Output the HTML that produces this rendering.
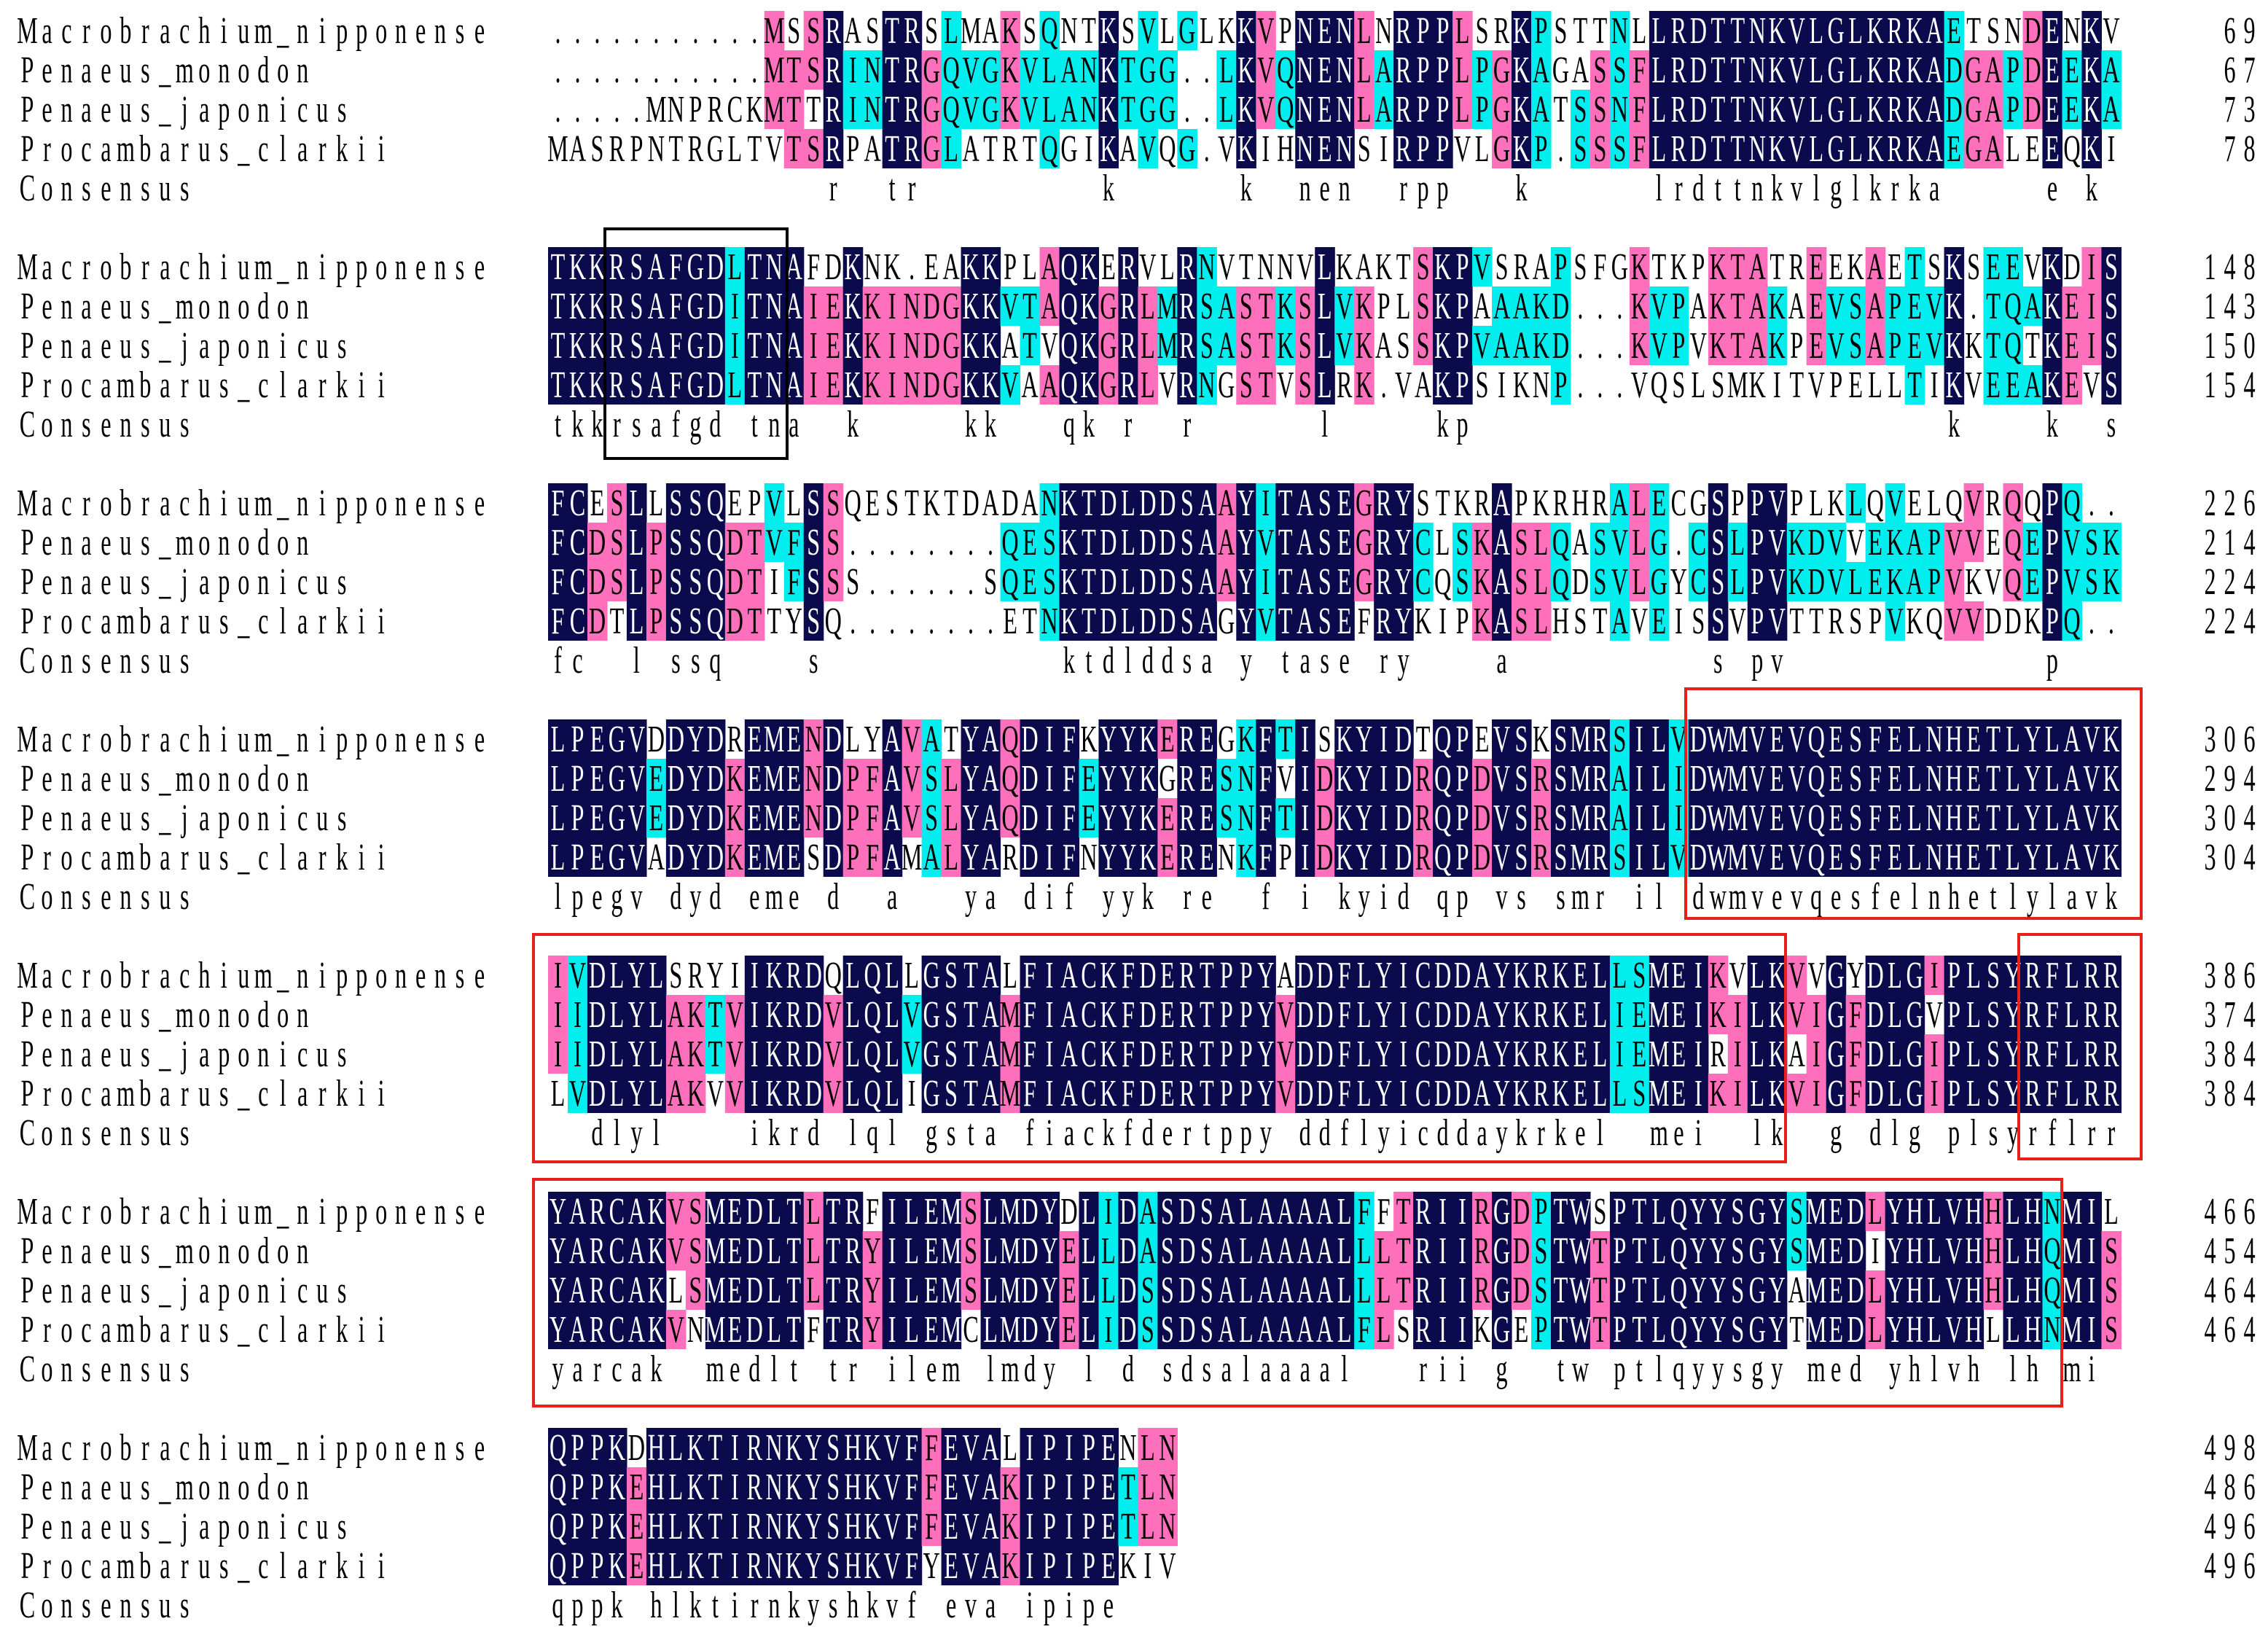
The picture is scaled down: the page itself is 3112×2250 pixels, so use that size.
<!DOCTYPE html>
<html><head><meta charset="utf-8">
<style>
html,body{margin:0;padding:0;background:#fff;}
svg{display:block;}
</style></head>
<body>
<svg id="aln" width="3112" height="2250" viewBox="0 0 3112 2250" xmlns="http://www.w3.org/2000/svg">
<rect width="3112" height="2250" fill="#fff"/>
<g id="cells"></g>
<g id="texts"></g>
<g id="boxes" fill="none" stroke-width="4">
<rect x="2313" y="945" width="625" height="315" stroke="#e8201c"/>
<rect x="732" y="1282" width="1718" height="312" stroke="#e8201c"/>
<rect x="2770" y="1282" width="168" height="308" stroke="#e8201c"/>
<rect x="732" y="1618" width="2097" height="311" stroke="#e8201c"/>
<rect x="830" y="314" width="250" height="315" stroke="#000"/>
</g>
</svg>
<script>
const names = ["Macrobrachium_nipponense","Penaeus_monodon","Penaeus_japonicus","Procambarus_clarkii"];
const block1 = ["...........MSSRASTRSLMAKSQNTKSVLGLKKVPNENLNRPPLSRKPSTTNLLRDTTNKVLGLKRKAETSNDENKV",
"...........MTSRINTRGQVGKVLANKTGG..LKVQNENLARPPLPGKAGASSFLRDTTNKVLGLKRKADGAPDEEKA",
".....MNPRCKMTTRINTRGQVGKVLANKTGG..LKVQNENLARPPLPGKATSSNFLRDTTNKVLGLKRKADGAPDEEKA",
"MASRPNTRGLTVTSRPATRGLATRTQGIKAVQG.VKIHNENSIRPPVLGKP.SSSFLRDTTNKVLGLKRKAEGALEEQKI"];
const block2 = ["TKKRSAFGDLTNAFDKNK.EAKKPLAQKERVLRNVTNNVLKAKTSKPVSRAPSFGKTKPKTATREEKAETSKSEEVKDIS",
"TKKRSAFGDITNAIEKKINDGKKVTAQKGRLMRSASTKSLVKPLSKPAAAKD...KVPAKTAKAEVSAPEVK.TQAKEIS",
"TKKRSAFGDITNAIEKKINDGKKATVQKGRLMRSASTKSLVKASSKPVAAKD...KVPVKTAKPEVSAPEVKKTQTKEIS",
"TKKRSAFGDLTNAIEKKINDGKKVAAQKGRLVRNGSTVSLRK.VAKPSIKNP...VQSLSMKITVPELLTIKVEEAKEVS"];
const block3 = ["FCESLLSSQEPVLSSQESTKTDADANKTDLDDSAAYITASEGRYSTKRAPKRHRALECGSPPVPLKLQVELQVRQQPQ..",
"FCDSLPSSQDTVFSS........QESKTDLDDSAAYVTASEGRYCLSKASLQASVLG.CSLPVKDVVEKAPVVEQEPVSK",
"FCDSLPSSQDTIFSSS......SQESKTDLDDSAAYITASEGRYCQSKASLQDSVLGYCSLPVKDVLEKAPVKVQEPVSK",
"FCDTLPSSQDTTYSQ........ETNKTDLDDSAGYVTASEFRYKIPKASLHSTAVEISSVPVTTRSPVKQVVDDKPQ.."];
const block4 = ["LPEGVDDYDREMENDLYAVATYAQDIFKYYKEREGKFTISKYIDTQPEVSKSMRSILVDWMVEVQESFELNHETLYLAVK",
"LPEGVEDYDKEMENDPFAVSLYAQDIFEYYKGRESNFVIDKYIDRQPDVSRSMRAILIDWMVEVQESFELNHETLYLAVK",
"LPEGVEDYDKEMENDPFAVSLYAQDIFEYYKERESNFTIDKYIDRQPDVSRSMRAILIDWMVEVQESFELNHETLYLAVK",
"LPEGVADYDKEMESDPFAMALYARDIFNYYKERENKFPIDKYIDRQPDVSRSMRSILVDWMVEVQESFELNHETLYLAVK"];
const block5 = ["IVDLYLSRYIIKRDQLQLLGSTALFIACKFDERTPPYADDFLYICDDAYKRKELLSMEIKVLKVVGYDLGIPLSYRFLRR",
"IIDLYLAKTVIKRDVLQLVGSTAMFIACKFDERTPPYVDDFLYICDDAYKRKELIEMEIKILKVIGFDLGVPLSYRFLRR",
"IIDLYLAKTVIKRDVLQLVGSTAMFIACKFDERTPPYVDDFLYICDDAYKRKELIEMEIRILKAIGFDLGIPLSYRFLRR",
"LVDLYLAKVVIKRDVLQLIGSTAMFIACKFDERTPPYVDDFLYICDDAYKRKELLSMEIKILKVIGFDLGIPLSYRFLRR"];
const block6 = ["YARCAKVSMEDLTLTRFILEMSLMDYDLIDASDSALAAAALFFTRIIRGDPTWSPTLQYYSGYSMEDLYHLVHHLHNMIL",
"YARCAKVSMEDLTLTRYILEMSLMDYELLDASDSALAAAALLLTRIIRGDSTWTPTLQYYSGYSMEDIYHLVHHLHQMIS",
"YARCAKLSMEDLTLTRYILEMSLMDYELLDSSDSALAAAALLLTRIIRGDSTWTPTLQYYSGYAMEDLYHLVHHLHQMIS",
"YARCAKVNMEDLTFTRYILEMCLMDYELIDSSDSALAAAALFLSRIIKGEPTWTPTLQYYSGYTMEDLYHLVHLLHNMIS"];
const block7 = ["QPPKDHLKTIRNKYSHKVFFEVALIPIPENLN",
"QPPKEHLKTIRNKYSHKVFFEVAKIPIPETLN",
"QPPKEHLKTIRNKYSHKVFFEVAKIPIPETLN",
"QPPKEHLKTIRNKYSHKVFYEVAKIPIPEKIV"];
const blocks = [block1,block2,block3,block4,block5,block6,block7];
const endNumbers = [[69,67,73,78],[148,143,150,154],[226,214,224,224],[306,294,304,304],[386,374,384,384],[466,454,464,464],[498,486,496,496]];

const NS="http://www.w3.org/2000/svg";
const X0=752, CW=26.98, RH=54, TOP0=15, BP=324, SX=0.62, FS=52;
const NAVY="#0b0a4c", PINK="#ff70bc", CYAN="#00eeee";
const cellsG=document.getElementById('cells'), textsG=document.getElementById('texts');
function colX(c){return X0+c*CW;}
function rowY(b,r){return TOP0+b*BP+r*RH;}
function mk(tag,attrs){const e=document.createElementNS(NS,tag);for(const k in attrs)e.setAttribute(k,attrs[k]);return e;}
function glyph(ch,cx,y,fill){
  const t=mk('text',{transform:`translate(${cx},${y}) scale(${SX},1)`,fill:fill,'font-family':'"Liberation Serif", serif','font-size':FS,'text-anchor':'middle'});
  t.textContent=ch;
  return t;
}
function cellString(str,x,y,name){
  const g=mk('g',{});
  
  
  for(let i=0;i<str.length;i++){
    if(str[i]===' ')continue;
    g.appendChild(glyph(str[i],x+i*CW+CW/2,y,'#000'));
  }
  textsG.appendChild(g);
}
blocks.forEach((blk,b)=>{
  const n=blk[0].length;
  let cons="";
  names.concat(["Consensus"]).forEach((nm,r)=>{
    cellString(nm,24,rowY(b,r)+44,'row-label');
  });
  for(let c=0;c<n;c++){
    const res=blk.map(s=>s[c]);
    const cnt={};
    res.forEach(ch=>{if(ch!=='.'&&ch!==' ')cnt[ch]=(cnt[ch]||0)+1;});
    cons += (Object.keys(cnt).length===1 && cnt[res[0]]===4) ? res[0].toLowerCase() : " ";
    res.forEach((ch,r)=>{
      const k=cnt[ch]||0;
      let bg=null, fg='#000';
      if(ch!=='.'){
        if(k===4){bg=NAVY;fg='#fff';}
        else if(k===3){bg=PINK;}
        else if(k===2){bg=CYAN;}
      }
      if(bg){
        const rc=mk('rect',{x:colX(c),y:rowY(b,r),width:CW+0.6,height:RH,fill:bg});
        
        
        cellsG.appendChild(rc);
      }
      const t=glyph(ch,colX(c)+CW/2,rowY(b,r)+44,fg);
      
      
      textsG.appendChild(t);
    });
  }
  cellString(cons,X0,rowY(b,4)+44,'consensus-sequence');
  endNumbers[b].forEach((v,r)=>{
    const s=String(v);
    cellString(s,3100-s.length*CW,rowY(b,r)+44,'position-number');
  });
});
</script>
</body></html>
